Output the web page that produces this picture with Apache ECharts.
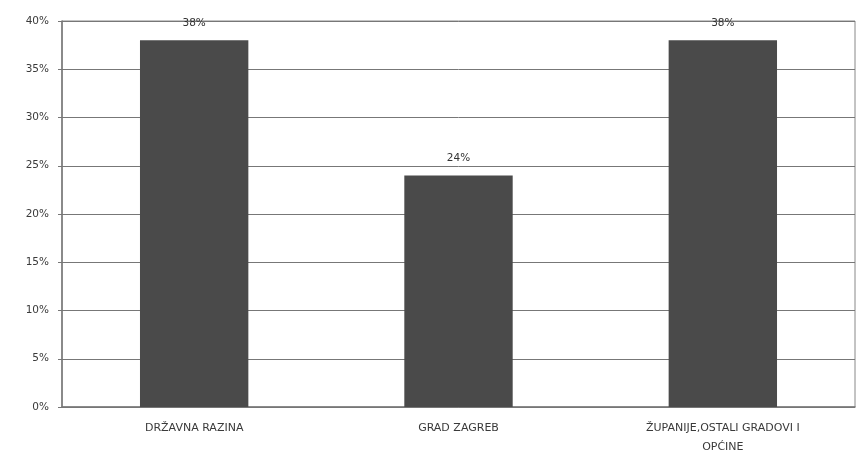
<!DOCTYPE html>
<html>
<head>
<meta charset="utf-8">
<script src="https://cdn.jsdelivr.net/npm/echarts@6/dist/echarts.min.js"></script>
<style>
  html, body { margin: 0; padding: 0; background: #fff; }
  #chart { width: 862px; height: 452px; }
</style>
</head>
<body>
<div id="chart"></div>
<script>
var categories = ['DRŽAVNA RAZINA', 'GRAD ZAGREB', 'ŽUPANIJE,OSTALI GRADOVI I\nOPĆINE'];
var values = [38, 24, 38];

var dom = document.getElementById("chart");
var myChart = echarts.init(dom);
var option = {
    backgroundColor: '#fff',
    animation: false,
    textStyle: { fontFamily: 'DejaVu Sans, sans-serif' },
    grid: {
        left: 62, right: 7, top: 21, bottom: 45,
        containLabel: false, outerBoundsMode: 'none',
        show: true, borderColor: '#888', borderWidth: 1
    },
    xAxis: {
        type: 'category',
        data: categories,
        axisLine: { lineStyle: { color: '#777', width: 1.5 } },
        axisTick: { show: false },
        axisLabel: { color: '#3a3a3a', fontSize: 11, margin: 12, lineHeight: 19 }
    },
    yAxis: {
        type: 'value',
        min: 0,
        max: 40,
        interval: 5,
        axisLine: { show: true, lineStyle: { color: '#777', width: 1.5 } },
        axisTick: { show: true, length: 4, lineStyle: { color: '#777' } },
        axisLabel: { color: '#3a3a3a', fontSize: 10.5, margin: 13, formatter: '{value}%' },
        splitLine: { lineStyle: { color: '#777', width: 1 } }
    },
    series: [
        {
            type: 'bar',
            data: values,
            barWidth: '41%',
            itemStyle: { color: '#4a4a4a' },
            label: {
                show: true,
                position: 'top',
                distance: 12,
                color: '#333',
                fontSize: 10.5,
                formatter: '{c}%'
            }
        }
    ]
};
myChart.setOption(option, true);
</script>
</body>
</html>
